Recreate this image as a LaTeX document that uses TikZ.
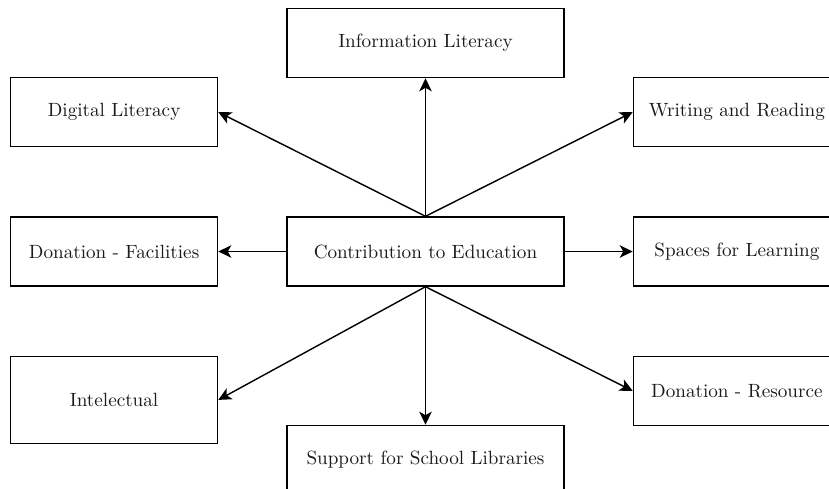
\documentclass[tikz,border=0pt]{standalone}
\usepackage{tikz}
\usetikzlibrary{
    arrows.meta,
    positioning
}
\definecolor{eduline}{HTML}{000000}
\definecolor{edutext}{HTML}{1A1A1A}
\tikzset{
    % Side box
    edubox/.style={
        rectangle,
        draw=eduline,
        fill=white,
        text=edutext,
        font=\rmfamily\fontsize{10.9}{13}\selectfont,
        minimum width=4.14cm,
        minimum height=1.38cm,
        align=center,
        inner sep=2pt,
        line width=0.8pt
    },
    % Wide box (centre column)
    eduwide/.style={
        edubox,
        minimum width=5.54cm
    },
    % Arrow style
    eduarrow/.style={
        -{Stealth[length=2.6mm, width=2.5mm, inset=0.7mm]},
        line width=0.8pt,
        color=#1
    },
    eduarrow/.default=eduline
}
\begin{document}
\begin{tikzpicture}

    % Page frame
    \useasboundingbox (-8.51,-4.73) rectangle (8.07,5.03);
    \clip (-8.51,-4.73) rectangle (8.07,5.03);

    % Centre block
    \node[eduwide] (contrib) {Contribution to Education};

    % Centre column
    \node[eduwide, above=2.76cm of contrib] (info) {Information Literacy};
    \node[eduwide, below=2.76cm of contrib] (support) {Support for School Libraries};

    % Left column
    \node[edubox, left=1.36cm of contrib] (facil) {Donation - Facilities};
    \node[edubox, above=1.38cm of facil] (digital) {Digital Literacy};
    \node[edubox, minimum height=1.74cm, below=1.38cm of facil] (intel) {Intelectual};

    % Right column
    \node[edubox, right=1.36cm of contrib] (spaces) {Spaces for Learning};
    \node[edubox, above=1.38cm of spaces] (writing) {Writing and Reading};
    \node[edubox, below=1.38cm of spaces] (resource) {Donation - Resource};

    % Upper arrows
    \draw[eduarrow] (contrib.north) -- (info.south);
    \draw[eduarrow] (contrib.north) -- (digital.east);
    \draw[eduarrow] (contrib.north) -- (writing.west);

    % Side arrows
    \draw[eduarrow] (contrib.west) -- (facil.east);
    \draw[eduarrow] (contrib.east) -- (spaces.west);

    % Lower arrows
    \draw[eduarrow] (contrib.south) -- (intel.east);
    \draw[eduarrow] (contrib.south) -- (support.north);
    \draw[eduarrow] (contrib.south) -- (resource.west);

\end{tikzpicture}
\end{document}
